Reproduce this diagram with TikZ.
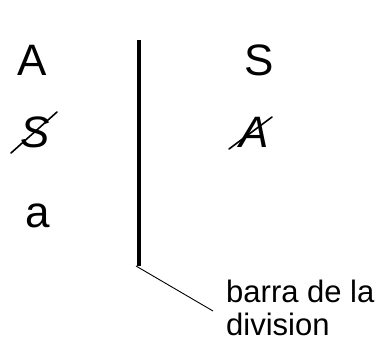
\documentclass[tikz,border=0pt]{standalone}
\usepackage{fontspec}
\setmainfont{Liberation Sans}
\begin{document}
\begin{tikzpicture}[x=1pt,y=-1pt,
  big/.style={inner sep=0pt,anchor=base,font=\fontsize{44}{44}\selectfont},
  lbl/.style={inner sep=0pt,anchor=base west,font=\fontsize{31}{33}\selectfont,align=left},
  strike/.style={line width=1.6pt,line cap=round},
  barline/.style={line width=4pt},
  leader/.style={line width=0.9pt}]
\useasboundingbox[fill=white] (0,0) rectangle (379,342);
% left column
\node[big] (lA) at (32,75) {A};
\node[big,font=\fontsize{44}{44}\selectfont\itshape] (lS) at (35,147) {S};
\node[big] (la) at (38,227) {a};
\coordinate (lS1) at (11,153);
\coordinate (lS2) at (57,112);
\draw[strike] (lS1) -- (lS2);
% right column
\node[big] (rS) at (259,75) {S};
\node[big,font=\fontsize{44}{44}\selectfont\itshape] (rA) at (254,147) {A};
\coordinate (rA1) at (229,149);
\coordinate (rA2) at (272,117);
\draw[strike] (rA1) -- (rA2);
% bar
\coordinate (bartop) at (139,40);
\coordinate (barbot) at (139,266);
\draw[barline] (bartop) -- (barbot);
% label
\node[lbl] (label) at (226,335) {barra de la\\division};
\coordinate (leadend) at (213,311);
\path (barbot) ++(-3,0) coordinate (leadstart);
\draw[leader] (leadstart) -- (leadend);
\end{tikzpicture}
\end{document}
